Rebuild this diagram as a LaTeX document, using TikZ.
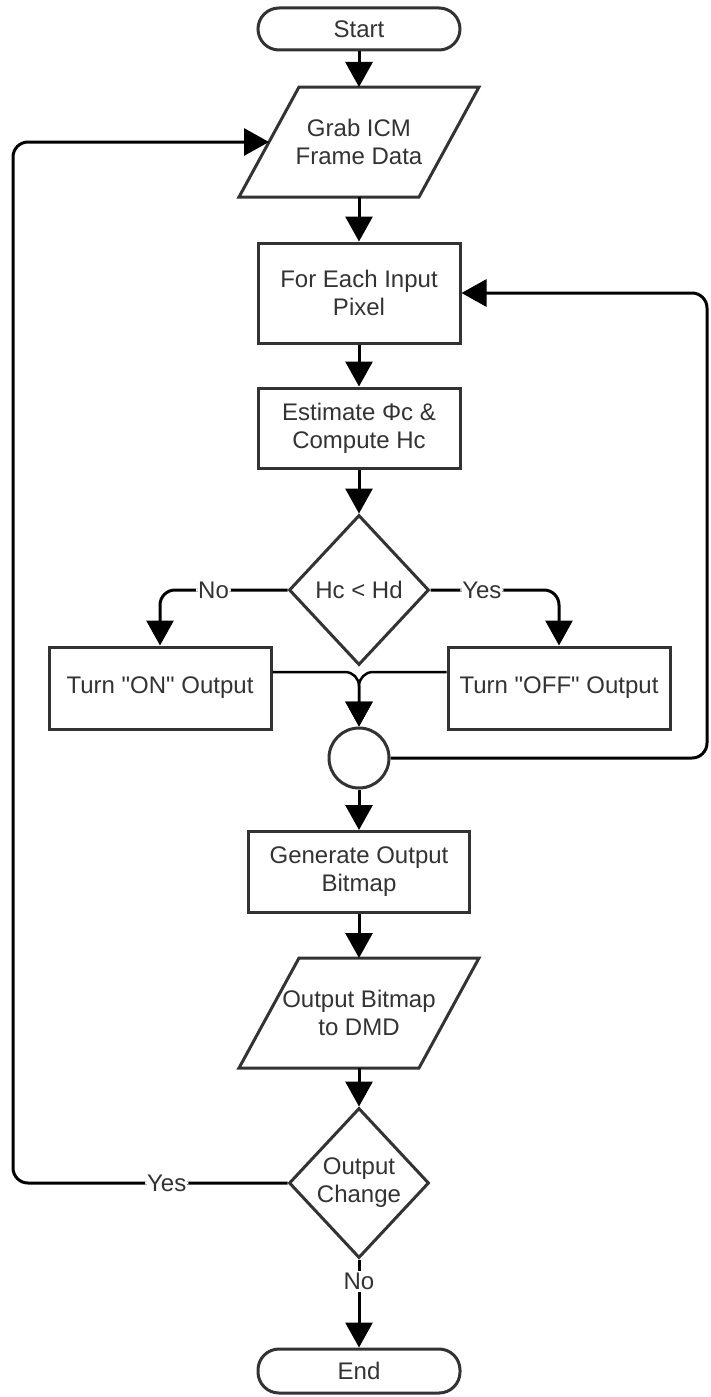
\documentclass[tikz,border=0pt]{standalone}
\usepackage{fontspec}
\setmainfont{Liberation Sans}[Ligatures=TeXOff]
\usetikzlibrary{shapes.geometric,arrows.meta}
\definecolor{ink}{HTML}{333333}

\begin{document}
\begin{tikzpicture}[x=1pt, y=-1pt,
  font=\fontsize{24}{28}\selectfont,
  shape line/.style={draw=ink, line width=3pt},
  box/.style={shape line, rectangle, minimum width=202pt, align=center, text=ink, inner sep=0pt},
  term/.style={box, rounded corners=21pt},
  dec/.style={shape line, diamond, minimum width=140pt, minimum height=150pt, align=center, text=ink, inner sep=0pt},
  iobody/.style={rectangle, minimum width=180pt, minimum height=110pt, align=center, text=ink, inner sep=0pt, outer sep=0pt},
  joint/.style={shape line, circle, minimum size=60pt, inner sep=0pt},
  conn/.style={line width=3pt, black, rounded corners=15pt, -{Triangle[width=27pt,length=25pt]}},
  lbl/.style={fill=white, inner sep=2pt, text=ink}]

\fill[white] (0,0) rectangle (710,1397);
\useasboundingbox (0,0) rectangle (710,1397);

% main column
\node[term, minimum height=42pt] (start) at (359,29) {Start};
\node[iobody] (grab) at (359,142) {Grab ICM\\Frame Data};
\node[box, minimum height=100pt] (each) at (359,293) {For Each Input\\Pixel};
\node[box, minimum height=80pt] (est) at (359,428) {Estimate Φc \&\\Compute Hc};
\node[dec] (dec1) at (359,590) {Hc < Hd};
\node[box, minimum width=222pt, minimum height=82pt] (on) at (160,688) {Turn "ON" Output};
\node[box, minimum width=222pt, minimum height=82pt] (off) at (559,688) {Turn "OFF" Output};
\node[joint] (circ) at (359,758) {};
\node[box, minimum width=221pt, minimum height=81pt] (gen) at (359,872) {Generate Output\\Bitmap};
\node[iobody] (outb) at (359,1013) {Output Bitmap\\to DMD};
\node[dec] (dec2) at (359,1183) {Output\\Change};
\node[term, minimum height=44pt] (end) at (359,1371) {End};

% slanted outlines of the two data blocks
\foreach \n in {grab,outb}
  \draw[shape line, line join=miter]
    ([xshift=-30pt]\n.south west) -- ([xshift=30pt]\n.north west) --
    ([xshift=30pt]\n.north east) -- ([xshift=-30pt]\n.south east) -- cycle;

% loop rails
\coordinate (lx) at (13,0);
\coordinate (rx) at (707,0);

% straight flow
\draw[conn] (start) -- (grab.north);
\draw[conn] (grab.south) -- (each);
\draw[conn] (each) -- (est);
\draw[conn] (est) -- (dec1);
\draw[conn] (circ) -- (gen);
\draw[conn] (gen) -- (outb.north);
\draw[conn] (outb.south) -- (dec2);
\draw[conn] (dec2) -- node[lbl, pos=0.25] {No} (end);

% decision branches
\draw[conn] (dec1.west) -- node[lbl, pos=0.58] {No} (dec1.west -| on.north) -- (on.north);
\draw[conn] (dec1.east) -- node[lbl, pos=0.4] {Yes} (dec1.east -| off.north) -- (off.north);

% merge into the joint
\draw[conn, line width=2.5pt, rounded corners=14pt] ([yshift=16pt]on.east) -| (circ.north);
\draw[conn, line width=2.5pt, rounded corners=14pt] ([yshift=16pt]off.west) -| (circ.north);

% pixel loop back
\draw[conn] (circ.east) -- (circ.east -| rx) |- (each.east);

% frame loop back
\draw[conn] (dec2.west) -- node[lbl, pos=0.44] {Yes} (dec2.west -| lx) |- (grab.west);

\end{tikzpicture}
\end{document}
